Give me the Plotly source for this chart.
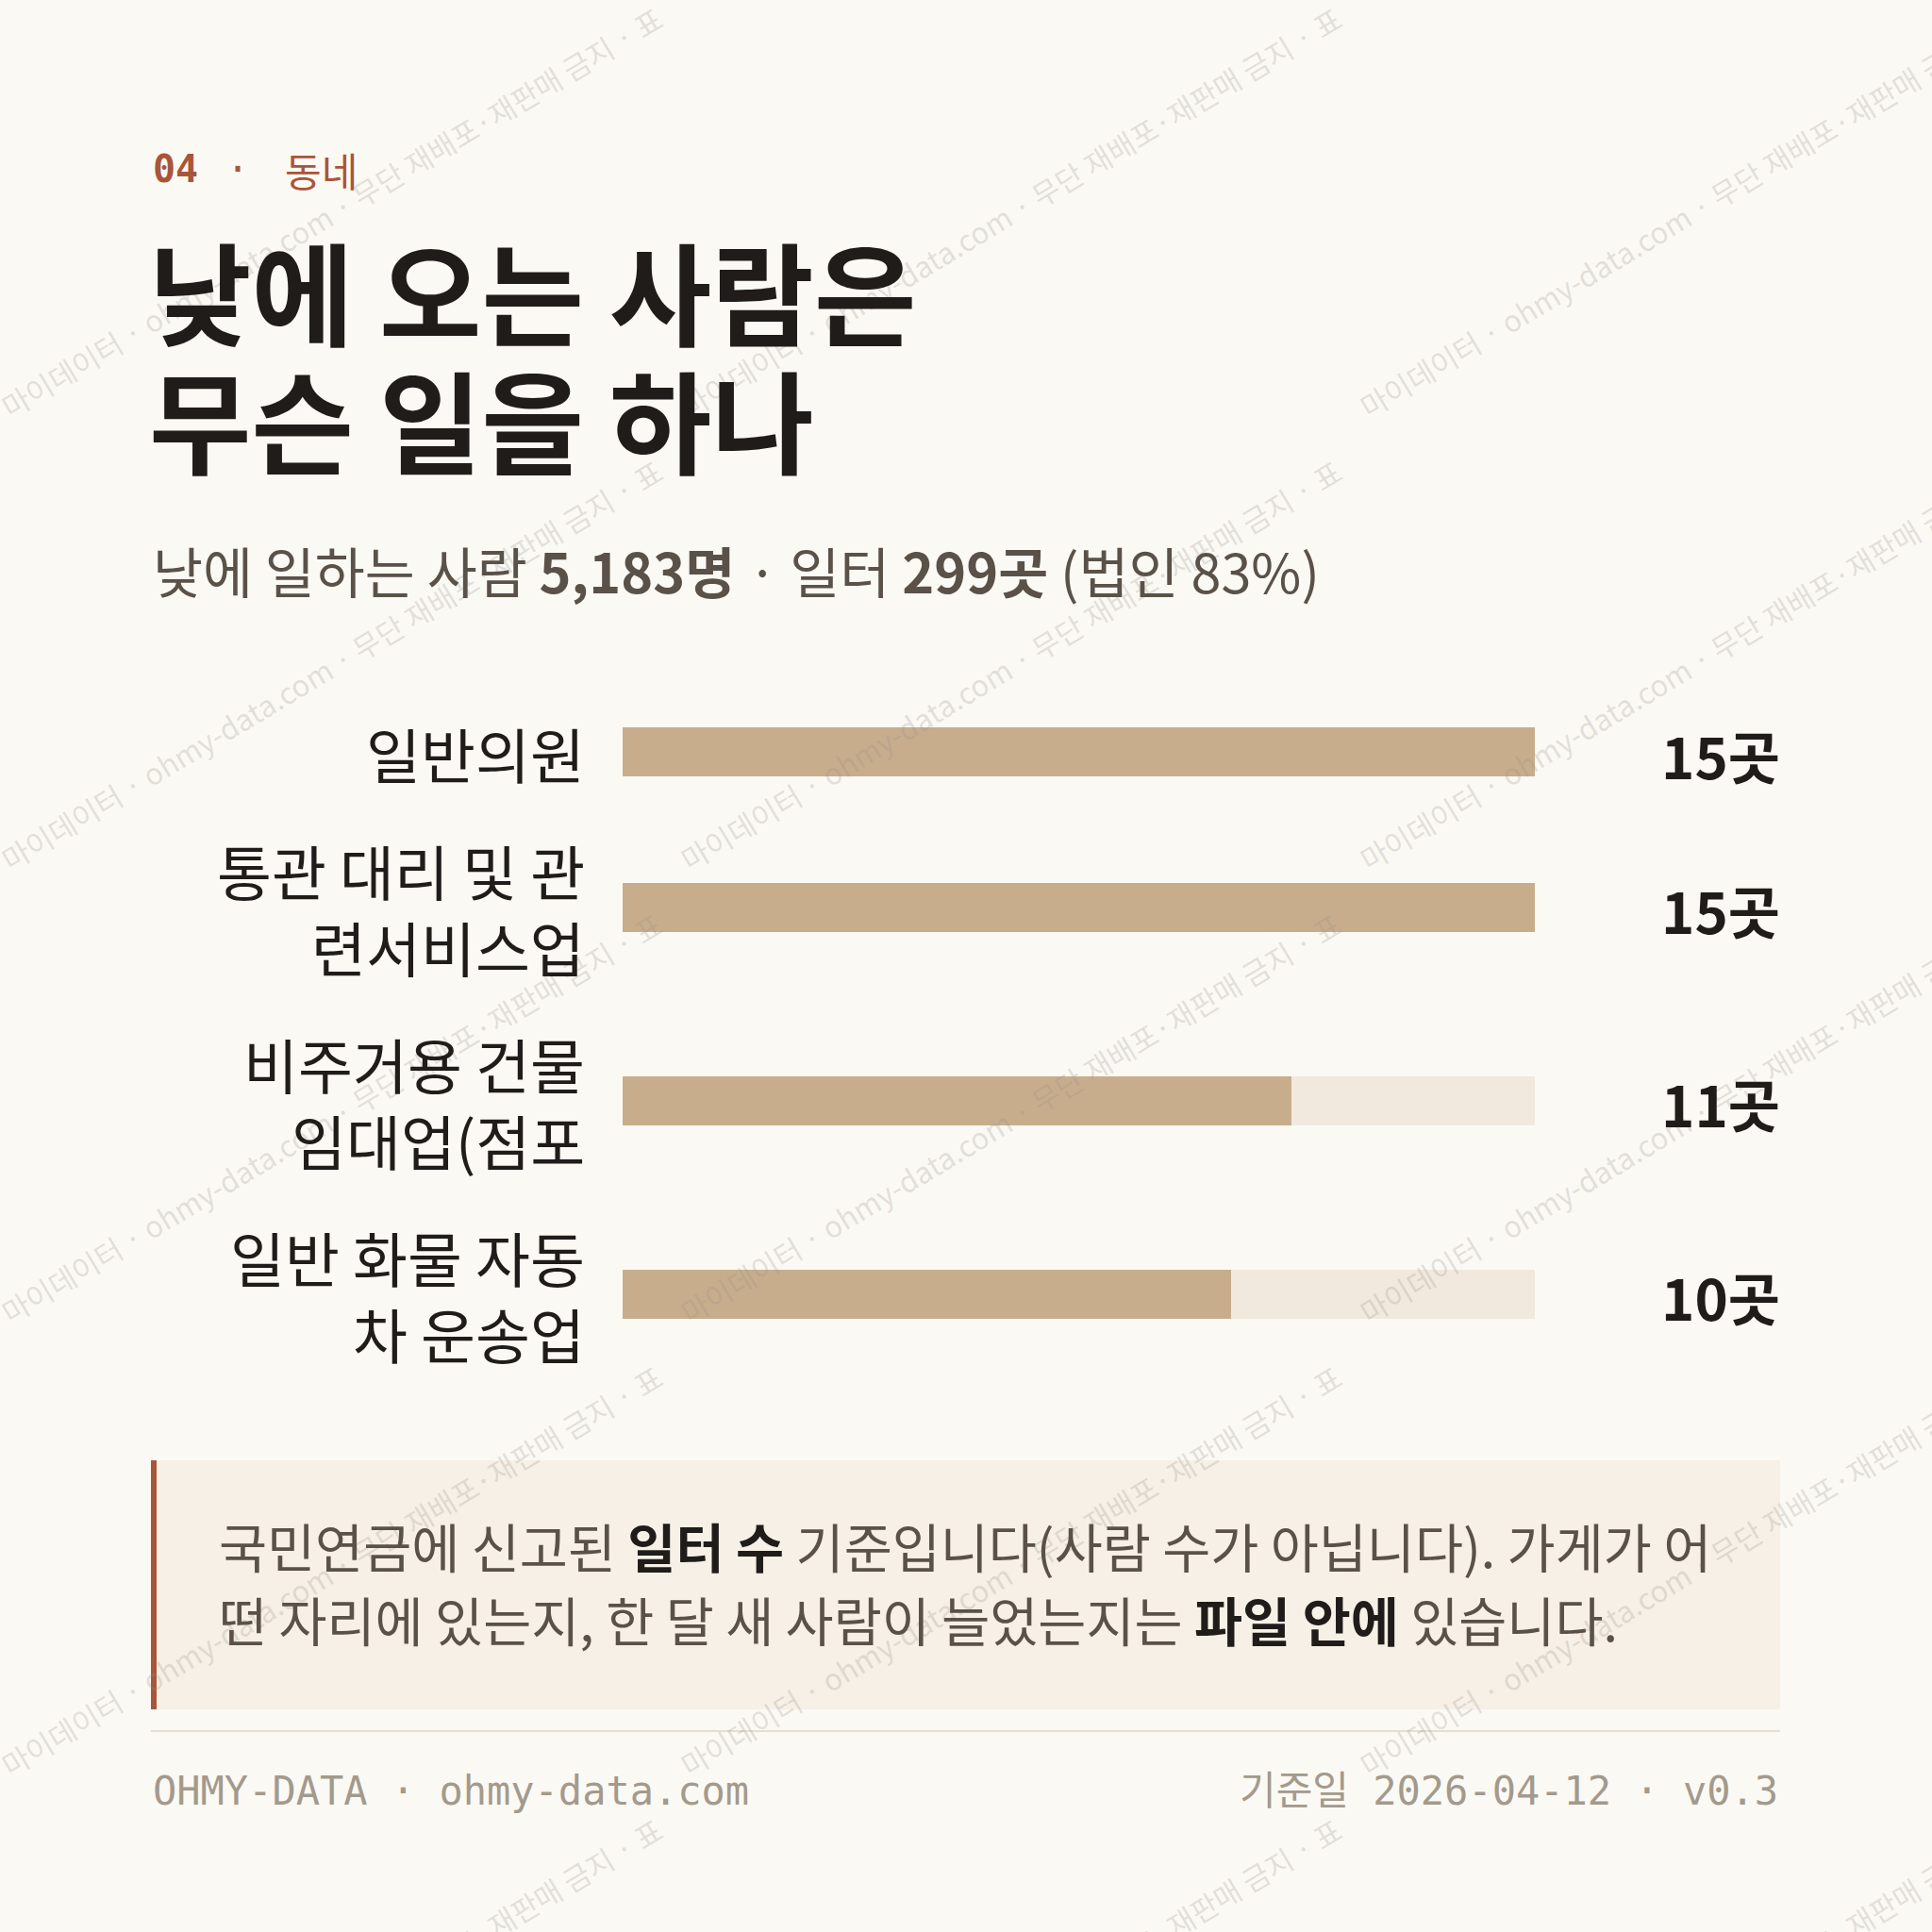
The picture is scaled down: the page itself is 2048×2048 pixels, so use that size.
import plotly.graph_objects as go

# ---------------- data ----------------
categories = ["일반의원", "통관 대리 및 관<br>련서비스업", "비주거용 건물<br>임대업(점포", "일반 화물 자동<br>차 운송업"]
counts = [15, 15, 11, 10]
unit = "곳"
workers_total = "5,183"
workplaces_total = "299"
corp_share = "83%"

kicker_num = "04"
kicker_txt = "동네"
title_lines = ["낮에 오는 사람은", "무슨 일을 하나"]
note_lines = [
    "국민연금에 신고된 <b><span style='color:#1f1c1a'>일터 수</span></b> 기준입니다(사람 수가 아닙니다). 가게가 어",
    "떤 자리에 있는지, 한 달 새 사람이 늘었는지는 <b><span style='color:#1f1c1a'>파일 안에</span></b> 있습니다.",
]
footer_left = "OHMY-DATA · ohmy-data.com"
footer_right = "기준일 2026-04-12 · v0.3"
watermark = "마이데이터 · ohmy-data.com · 무단 재배포·재판매 금지 · 표"

# ---------------- style ----------------
W = H = 2048
BG = "#fbf9f4"
INK = "#1f1c1a"
SUB = "#5a5148"
ACCENT = "#a9553a"
BAR = "#c8ad8d"
TRACK = "#f1e9dd"
MUTED = "#a39a8c"
KR = "Noto Sans CJK KR, Noto Sans, sans-serif"
MONO = "DejaVu Sans Mono, Liberation Mono, monospace"

LEFT, RIGHT = 160, 1887
BAR_X0, BAR_X1 = 660, 1627
LABEL_X = 622
LINE_H = 81
GAP = 43
ROW_TOP = 756.5
BAR_W = 52

# row centers derived from number of label lines
nlines = [c.count("<br>") + 1 for c in categories]
centers = []
y = ROW_TOP
for n in nlines:
    h = n * LINE_H
    centers.append(y + h / 2)
    y += h + GAP

vmax = max(counts)

fig = go.Figure()
fig.add_trace(go.Bar(
    x=[vmax] * len(counts), y=centers, orientation="h", width=BAR_W,
    marker=dict(color=TRACK, line=dict(width=0)), hoverinfo="skip", showlegend=False))
fig.add_trace(go.Bar(
    x=counts, y=centers, orientation="h", width=BAR_W,
    marker=dict(color=BAR, line=dict(width=0)), hoverinfo="skip", showlegend=False))

ann = []

# watermark tiles
TW, TH = 720, 480
for j in range(0, 5):
    for i in range(0, 3):
        cx = i * TW + 351
        cy = j * TH + 224
        ann.append(dict(
            x=cx / W, y=1 - cy / H, xref="paper", yref="paper",
            text=watermark, showarrow=False, textangle=-31,
            xanchor="center", yanchor="middle",
            font=dict(family=KR, size=31, color="rgba(150,145,140,0.25)")))

# category labels (one annotation per line)
for c, cy in zip(categories, centers):
    parts = c.split("<br>")
    n = len(parts)
    for k, p in enumerate(parts):
        ly = cy + (k - (n - 1) / 2) * LINE_H
        ann.append(dict(
            x=LABEL_X / W, y=ly, xref="paper", yref="y", text=p, showarrow=False,
            xanchor="right", yanchor="middle",
            font=dict(family=KR, size=63, color=INK)))

# value labels
for v, cy in zip(counts, centers):
    ann.append(dict(
        x=1889 / W, y=cy + 2, xref="paper", yref="y", text=f"<b>{v}{unit}</b>",
        showarrow=False, xanchor="right", yanchor="middle",
        font=dict(family=KR, size=60, color=INK)))

# kicker
ann.append(dict(
    x=LEFT / W, y=1 - 179 / H, xref="paper", yref="paper",
    text=f"<b>{kicker_num}</b>", showarrow=False, xanchor="left", yanchor="middle",
    font=dict(family=MONO, size=40, color=ACCENT)))
ann.append(dict(
    x=252 / W, y=1 - 179 / H, xref="paper", yref="paper",
    text="·", showarrow=False, xanchor="center", yanchor="middle",
    font=dict(family=MONO, size=40, color=ACCENT)))
ann.append(dict(
    x=300 / W, y=1 - 179 / H, xref="paper", yref="paper",
    text=kicker_txt, showarrow=False, xanchor="left", yanchor="middle",
    font=dict(family=KR, size=42, color=ACCENT)))

# title
for k, t in enumerate(title_lines):
    ann.append(dict(
        x=(LEFT - 4) / W, y=1 - (306 + 136 * k) / H, xref="paper", yref="paper",
        text=f"<b>{t}</b>", showarrow=False, xanchor="left", yanchor="middle",
        font=dict(family=KR, size=118, color=INK)))

# subtitle
ann.append(dict(
    x=LEFT / W, y=1 - 604 / H, xref="paper", yref="paper",
    text=f"낮에 일하는 사람 <b>{workers_total}명</b> · 일터 <b>{workplaces_total}곳</b> (법인 {corp_share})",
    showarrow=False, xanchor="left", yanchor="middle",
    font=dict(family=KR, size=57.6, color=SUB)))

# note text
for k, t in enumerate(note_lines):
    ann.append(dict(
        x=230 / W, y=1 - (1638 + 78 * k) / H, xref="paper", yref="paper",
        text=t, showarrow=False, xanchor="left", yanchor="middle",
        font=dict(family=KR, size=55.5, color=SUB)))

# footer
ann.append(dict(
    x=LEFT / W, y=1 - 1898 / H, xref="paper", yref="paper", text=footer_left,
    showarrow=False, xanchor="left", yanchor="middle",
    font=dict(family=MONO, size=42, color=MUTED)))
ann.append(dict(
    x=RIGHT / W, y=1 - 1898 / H, xref="paper", yref="paper", text=footer_right,
    showarrow=False, xanchor="right", yanchor="middle",
    font=dict(family=MONO + ", Noto Sans CJK KR", size=42, color=MUTED)))

shapes = [
    dict(type="rect", xref="paper", yref="paper", x0=LEFT / W, x1=RIGHT / W,
         y0=1 - 1812 / H, y1=1 - 1548 / H, fillcolor="#f6f0e6", line=dict(width=0), layer="below"),
    dict(type="rect", xref="paper", yref="paper", x0=LEFT / W, x1=(LEFT + 6) / W,
         y0=1 - 1812 / H, y1=1 - 1548 / H, fillcolor=ACCENT, line=dict(width=0), layer="below"),
    dict(type="line", xref="paper", yref="paper", x0=LEFT / W, x1=RIGHT / W,
         y0=1 - 1835 / H, y1=1 - 1835 / H, line=dict(color="#e6dfd2", width=2)),
]

fig.update_layout(
    width=W, height=H, margin=dict(l=0, r=0, t=0, b=0),
    paper_bgcolor=BG, plot_bgcolor="rgba(0,0,0,0)",
    barmode="overlay", bargap=0, showlegend=False,
    xaxis=dict(domain=[BAR_X0 / W, BAR_X1 / W], range=[0, vmax], visible=False, fixedrange=True),
    yaxis=dict(domain=[0, 1], range=[H, 0], visible=False, fixedrange=True),
    annotations=ann, shapes=shapes, hovermode=False,
)

fig.write_html(
    "out.html",
    config={"displayModeBar": False},
    post_script="document.body.style.margin='0';document.body.style.background='#fbf9f4';",
)
